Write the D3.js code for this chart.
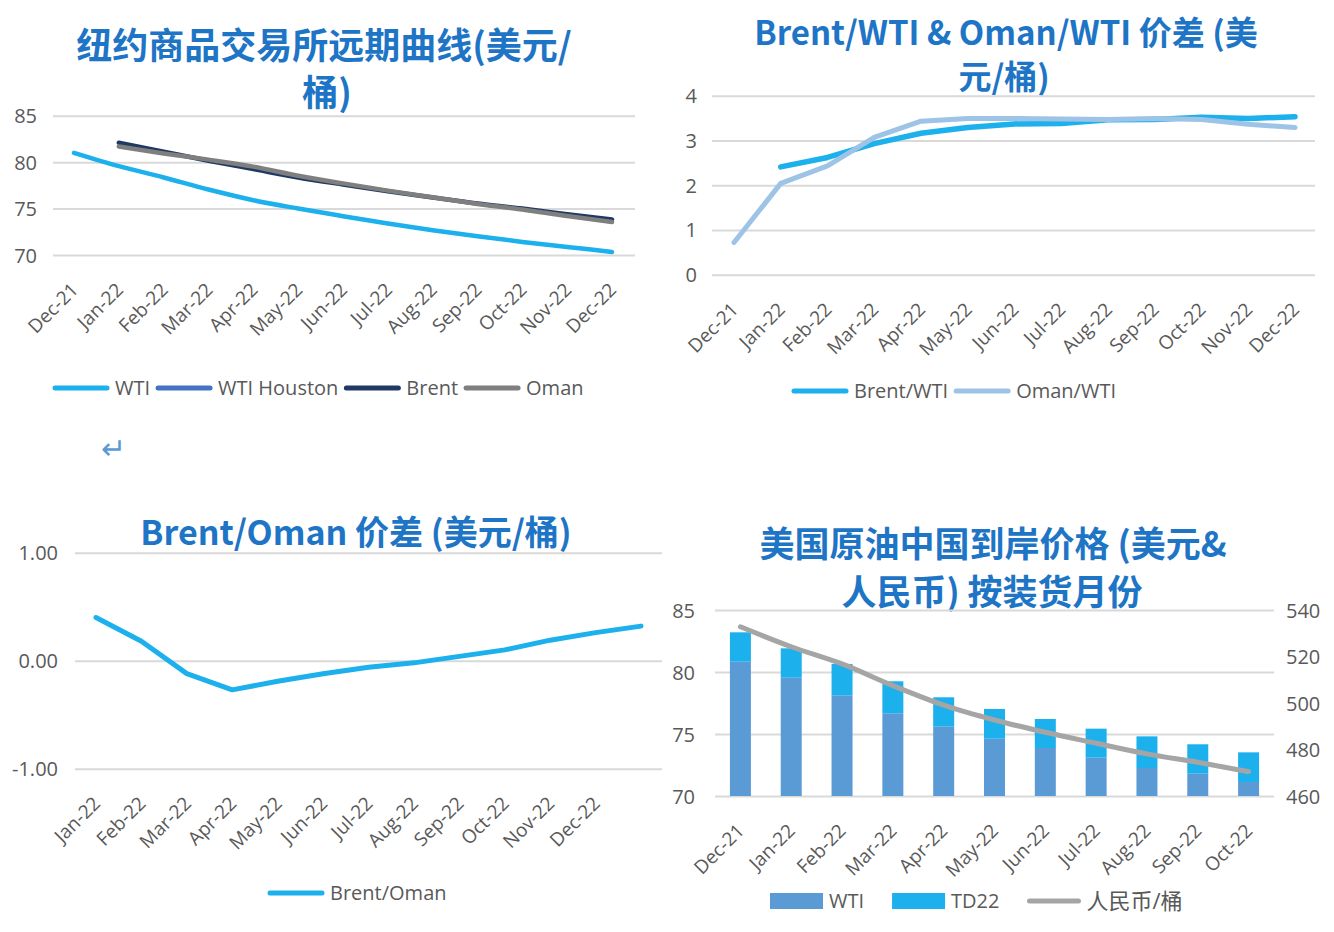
<!DOCTYPE html>
<html>
<head>
<meta charset="utf-8">
<script src="https://cdn.jsdelivr.net/npm/d3@7"></script>
<style>
  body { margin: 0; background: #fff; }
  text { font-family: "Open Sans", "Noto Sans CJK SC", sans-serif; fill: #595959; }
  .title { font-family: "Noto Sans CJK SC", sans-serif; font-weight: bold; fill: #1E75C6; font-size: 35px; }
  .tick line { stroke: #D9D9D9; stroke-width: 2; }
</style>
</head>
<body>
<div id="chart"></div>
<script>
// categories
const months = ["Dec-21","Jan-22","Feb-22","Mar-22","Apr-22","May-22","Jun-22","Jul-22","Aug-22","Sep-22","Oct-22","Nov-22","Dec-22"];
const shipMonths = ["Dec-21","Jan-22","Feb-22","Mar-22","Apr-22","May-22","Jun-22","Jul-22","Aug-22","Sep-22","Oct-22"];
const spreadLabels = ["Jan-22","Feb-22","Mar-22","Apr-22","May-22","Jun-22","Jul-22","Aug-22","Sep-22","Oct-22","Nov-22","Dec-22"];

// NYMEX forward curve (USD/bbl)
const wti   = [81.0, 79.57, 78.35, 77.05, 75.9, 75.0, 74.18, 73.39, 72.67, 72.02, 71.41, 70.87, 70.33];
const brent = [null, 82.09, 81.12, 80.15, 79.25, 78.35, 77.59, 76.87, 76.19, 75.54, 75.0, 74.39, 73.82];
const oman  = [null, 81.69, 80.94, 80.27, 79.52, 78.54, 77.71, 76.93, 76.21, 75.5, 74.9, 74.2, 73.56];

// spreads
const brentWti  = [null, 2.41, 2.62, 2.93, 3.16, 3.29, 3.37, 3.38, 3.46, 3.47, 3.52, 3.49, 3.53];
const omanWti   = [0.72, 2.04, 2.43, 3.07, 3.43, 3.49, 3.49, 3.48, 3.47, 3.49, 3.47, 3.36, 3.29];
const brentOman = [0.40, 0.18, -0.12, -0.27, -0.19, -0.12, -0.06, -0.02, 0.04, 0.10, 0.19, 0.26, 0.32];

// landed price in China by loading month
const barWti  = [80.83, 79.54, 78.12, 76.67, 75.59, 74.62, 73.87, 73.09, 72.26, 71.8, 71.13];
const barTd22 = [2.37, 2.37, 2.53, 2.58, 2.37, 2.40, 2.34, 2.34, 2.55, 2.37, 2.39];
const rmb     = [532.8, 524.2, 516.8, 507.5, 499.1, 492.7, 487.4, 482.7, 478.1, 474.5, 470.5];

const lightBlue = "#1CB0EC";

const svg = d3.select("#chart")
    .append("svg")
    .attr("width", 1334)
    .attr("height", 932);

// y axis with gridlines, domain removed
function gridAxis(y, ticks, left, right, pad, fmt) {
    const g = svg.append("g")
        .attr("transform", `translate(${left},0)`)
        .call(d3.axisLeft(y).tickValues(ticks).tickSize(-(right - left)).tickPadding(pad).tickFormat(fmt || d3.format("d")));
    g.select(".domain").remove();
    g.selectAll("text").style("font-size", "20px").attr("dy", "0.35em");
    return g;
}

// rotated category labels
function catAxis(x, axisY, ticks, fmt) {
    const g = svg.append("g")
        .attr("transform", `translate(0,${axisY})`)
        .call(d3.axisBottom(x).tickValues(ticks).tickSize(0).tickFormat(fmt || (d => d)));
    g.select(".domain").remove();
    g.selectAll("text")
        .style("font-size", "19px")
        .style("text-anchor", "end")
        .attr("x", 5).attr("y", 36).attr("dy", 0)
        .attr("transform", "rotate(-45,5,36)");
}

function legend(items, x0, y, swatchW, gap) {
    let x = x0;
    items.forEach(d => {
        if (d.rect) {
            svg.append("rect").attr("x", x).attr("y", y - 8).attr("width", swatchW).attr("height", 16).attr("fill", d.color);
        } else {
            svg.append("line").attr("x1", x + 2).attr("x2", x + swatchW - 2).attr("y1", y).attr("y2", y)
                .attr("stroke", d.color).attr("stroke-width", 5).attr("stroke-linecap", "round");
        }
        const t = svg.append("text")
            .attr("x", x + swatchW + 6).attr("y", y).attr("dy", "0.35em")
            .style("font-size", d.size || "20px")
            .text(d.name);
        x = x + swatchW + 6 + t.node().getComputedTextLength() + gap;
    });
}

function title(lines, size) {
    lines.forEach(l => {
        svg.append("text").attr("class", "title")
            .attr("x", l[0]).attr("y", l[1])
            .attr("text-anchor", "middle").attr("dominant-baseline", "central")
            .style("font-size", size + "px")
            .text(l[2]);
    });
}

//////////
// TOP LEFT: forward curve //
//////////
title([[324, 43, "纽约商品交易所远期曲线(美元/"], [327, 90, "桶)"]], 36);

const x1 = d3.scalePoint().domain(months).range([74, 612]);
const y1 = d3.scaleLinear().domain([70, 85]).range([255, 115.7]);
gridAxis(y1, [70, 75, 80, 85], 53, 635, 16);
catAxis(x1, 255, months);

const line1 = d3.line()
    .defined(d => d.v != null)
    .x(d => x1(d.m)).y(d => y1(d.v))
    .curve(d3.curveMonotoneX);

[[wti, lightBlue], [brent, "#1F3864"], [oman, "#7F7F7F"]].forEach(s => {
    svg.append("path")
        .datum(months.map((m, i) => ({m: m, v: s[0][i]})))
        .attr("fill", "none").attr("stroke", s[1]).attr("stroke-width", 4.5)
        .attr("stroke-linecap", "round").attr("stroke-linejoin", "round")
        .attr("d", line1);
});

legend([
    {name: "WTI", color: lightBlue},
    {name: "WTI Houston", color: "#4472C4"},
    {name: "Brent", color: "#1F3864"},
    {name: "Oman", color: "#7F7F7F"}
], 53, 388, 56, 6);

svg.append("text").attr("x", 101).attr("y", 459).style("font-size", "30px").style("fill", "#5B9BD5").text("↵");

//////////
// TOP RIGHT: Brent/WTI & Oman/WTI //
//////////
title([[1006, 31, "Brent/WTI & Oman/WTI 价差 (美"], [1004, 75, "元/桶)"]], 33);

const x2 = d3.scalePoint().domain(months).range([734, 1295]);
const y2 = d3.scaleLinear().domain([0, 4]).range([274.7, 95.7]);
gridAxis(y2, [0, 1, 2, 3, 4], 712, 1315, 15);
catAxis(x2, 274.7, months);

const line2 = d3.line()
    .defined(d => d.v != null)
    .x(d => x2(d.m)).y(d => y2(d.v));

[[brentWti, lightBlue, 5.5], [omanWti, "#9DC3E6", 5]].forEach(s => {
    svg.append("path")
        .datum(months.map((m, i) => ({m: m, v: s[0][i]})))
        .attr("fill", "none").attr("stroke", s[1]).attr("stroke-width", s[2])
        .attr("stroke-linecap", "round").attr("stroke-linejoin", "round")
        .attr("d", line2);
});

legend([
    {name: "Brent/WTI", color: lightBlue},
    {name: "Oman/WTI", color: "#9DC3E6"}
], 792, 391, 56, 6);

//////////
// BOTTOM LEFT: Brent/Oman //
//////////
title([[356, 530, "Brent/Oman 价差 (美元/桶)"]], 34);

const x3 = d3.scalePoint().domain(d3.range(brentOman.length)).range([96, 641]);
const y3 = d3.scaleLinear().domain([-1, 1]).range([768.7, 552.7]);
gridAxis(y3, [-1, 0, 1], 75, 662, 17, d => d.toFixed(2));
catAxis(x3, 768.7, d3.range(spreadLabels.length), i => spreadLabels[i]);

svg.append("path")
    .datum(brentOman)
    .attr("fill", "none").attr("stroke", lightBlue).attr("stroke-width", 5)
    .attr("stroke-linecap", "round").attr("stroke-linejoin", "round")
    .attr("d", d3.line().x((d, i) => x3(i)).y(d => y3(d)));

legend([{name: "Brent/Oman", color: lightBlue}], 268, 893, 56, 6);

//////////
// BOTTOM RIGHT: landed price, bars + RMB line //
//////////
title([[993, 541, "美国原油中国到岸价格 (美元&"], [992, 589, "人民币) 按装货月份"]], 35);

const x4 = d3.scaleBand().domain(shipMonths).range([715, 1274]).paddingInner(0.587).paddingOuter(0.2935);
const y4 = d3.scaleLinear().domain([70, 85]).range([796, 610]);
const y4r = d3.scaleLinear().domain([460, 540]).range([796, 610]);
gridAxis(y4, [70, 75, 80, 85], 715, 1274, 20);

const rAxis = svg.append("g")
    .attr("transform", "translate(1274,0)")
    .call(d3.axisRight(y4r).tickValues([460, 480, 500, 520, 540]).tickSize(0).tickPadding(12));
rAxis.select(".domain").remove();
rAxis.selectAll("text").style("font-size", "20px").attr("dy", "0.35em");

catAxis(x4, 796, shipMonths);

const rows = shipMonths.map((m, i) => ({month: m, WTI: barWti[i], TD22: barTd22[i]}));
const stacked = d3.stack().keys(["WTI", "TD22"])(rows);
const barColor = d3.scaleOrdinal().domain(["WTI", "TD22"]).range(["#5B9BD5", "#1CB0EC"]);

svg.append("g").selectAll("g")
    .data(stacked)
    .join("g")
    .attr("fill", d => barColor(d.key))
    .selectAll("rect")
    .data(d => d)
    .join("rect")
    .attr("x", d => x4(d.data.month))
    .attr("width", x4.bandwidth())
    .attr("y", d => y4(d[1]))
    .attr("height", d => y4(Math.max(d[0], 70)) - y4(d[1]));

svg.append("path")
    .datum(rmb)
    .attr("fill", "none").attr("stroke", "#A5A5A5").attr("stroke-width", 5)
    .attr("stroke-linecap", "round")
    .attr("d", d3.line()
        .x((d, i) => x4(shipMonths[i]) + x4.bandwidth() / 2)
        .y(d => y4r(d))
        .curve(d3.curveMonotoneX));

legend([
    {name: "WTI", color: "#5B9BD5", rect: true},
    {name: "TD22", color: "#1CB0EC", rect: true},
    {name: "人民币/桶", color: "#A5A5A5", size: "22px"}
], 770, 901, 53, 28);
</script>
</body>
</html>
